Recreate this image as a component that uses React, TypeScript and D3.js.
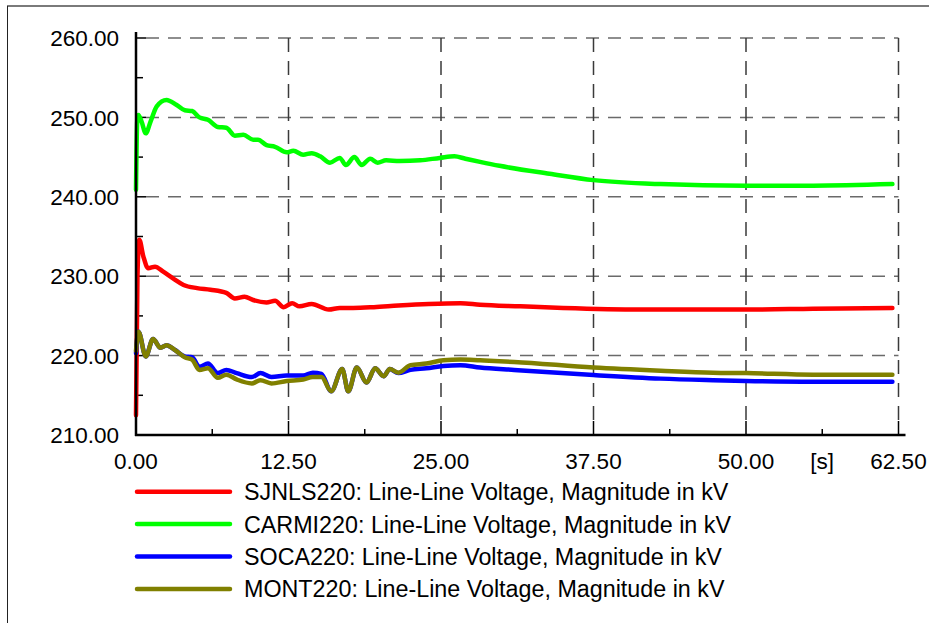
import { useEffect, useRef } from "react";
import * as d3 from "d3";

// axis ticks
const xTicks = [0, 12.5, 25, 37.5, 50, 62.5];
const xMinorTicks = [6.25, 18.75, 31.25, 43.75, 56.25];
const yTicks = [210, 220, 230, 240, 250, 260];
const yMinorTicks = [215, 225, 235, 245, 255];
const xUnit = "[s]";
const xUnitAt = 56.25;

const seriesNames = [
  "SJNLS220: Line-Line Voltage, Magnitude in kV",
  "CARMI220: Line-Line Voltage, Magnitude in kV",
  "SOCA220: Line-Line Voltage, Magnitude in kV",
  "MONT220: Line-Line Voltage, Magnitude in kV",
];
const seriesColors = ["#ff0000", "#00ff00", "#0000ff", "#808000"];

// [time s, voltage kV]
const sjnls220: [number, number][] = [
  [0, 212.5], [0.12, 230], [0.27, 234.6], [0.6, 232.5], [1.0, 231.0], [1.56, 231.2],
  [2.2, 230.6], [3.06, 229.7], [3.9, 228.9], [5.0, 228.5], [6.1, 228.3], [7.4, 227.9],
  [8.1, 227.2], [8.9, 227.4], [9.6, 227.0], [10.7, 226.7], [11.4, 226.9], [12.1, 226.1],
  [12.8, 226.6], [13.4, 226.2], [14.4, 226.5], [15.8, 225.8], [16.7, 226.0], [17.8, 226.0],
  [19.5, 226.1], [21.5, 226.3], [24, 226.5], [26.6, 226.6], [28.2, 226.4], [31.5, 226.2],
  [35, 226.0], [41.3, 225.8], [50, 225.8], [55.5, 225.9], [62, 226.0],
];

const carmi220: [number, number][] = [
  [0, 240.9], [0.1, 249.5], [0.2, 250.3], [0.45, 249.5], [0.8, 248.0], [1.2, 249.5],
  [1.7, 251.4], [2.5, 252.2], [3.3, 251.6], [4.0, 250.9], [4.6, 250.8], [5.2, 250.0],
  [5.9, 249.7], [6.7, 248.8], [7.4, 248.7], [8.1, 247.7], [8.8, 247.8], [9.6, 247.2],
  [10.0, 247.2], [10.7, 246.5], [11.4, 246.3], [12.35, 245.6], [12.9, 245.8], [13.7, 245.3],
  [14.4, 245.5], [15.1, 245.1], [15.9, 244.3], [16.7, 244.9], [17.2, 244.0], [17.9, 245.0],
  [18.5, 244.0], [19.2, 244.8], [19.8, 244.3], [20.5, 244.6], [21.6, 244.5], [23.3, 244.6],
  [24.9, 244.9], [26.1, 245.1], [27, 244.8], [28.2, 244.4], [29.8, 243.9], [33.9, 242.9],
  [37.5, 242.1], [43, 241.6], [50, 241.4], [55.5, 241.4], [62, 241.6],
];

const soca220: [number, number][] = [
  [0, 220.3], [0.2, 223.0], [0.8, 219.9], [1.4, 222.1], [2.0, 221.0], [2.5, 221.3],
  [3.2, 220.7], [4.0, 219.9], [4.6, 219.8], [5.2, 218.6], [5.9, 219.0], [6.7, 217.8],
  [7.4, 218.2], [8.25, 217.8], [9.5, 217.3], [10.2, 217.8], [11.1, 217.3], [12.35, 217.5],
  [13.7, 217.5], [14.5, 217.85], [15.2, 217.7], [16.0, 215.5], [16.9, 218.3], [17.4, 215.5],
  [18.1, 218.5], [18.9, 216.6], [19.6, 218.4], [20.3, 217.4], [20.8, 218.3], [21.5, 217.8],
  [22.5, 218.2], [23.8, 218.4], [25.2, 218.7], [26.6, 218.8], [28.2, 218.5], [31, 218.2],
  [37.5, 217.55], [43, 217.1], [47.3, 216.9], [50, 216.8], [55.5, 216.7], [62, 216.7],
];

const mont220: [number, number][] = [
  [0, 220.6], [0.2, 223.0], [0.8, 219.9], [1.4, 222.1], [2.0, 221.0], [2.5, 221.3],
  [3.2, 220.7], [4.0, 219.8], [4.6, 219.5], [5.2, 218.2], [5.9, 218.4], [6.7, 217.2],
  [7.4, 217.6], [8.25, 217.0], [9.5, 216.5], [10.2, 216.9], [11.1, 216.5], [12.35, 216.8],
  [13.7, 217.0], [14.5, 217.3], [15.2, 217.3], [16.0, 215.5], [16.9, 218.3], [17.4, 215.5],
  [18.1, 218.5], [18.9, 216.6], [19.6, 218.4], [20.3, 217.4], [20.8, 218.3], [21.5, 217.85],
  [22.5, 218.8], [23.8, 219.0], [25.2, 219.4], [26.6, 219.5], [28.2, 219.4], [31, 219.2],
  [37.5, 218.5], [43, 218.1], [47.3, 217.85], [50, 217.8], [55.5, 217.6], [62, 217.6],
];

const allSeries = [sjnls220, carmi220, soca220, mont220];

export default function App() {
  const svgRef = useRef<SVGSVGElement>(null);

  useEffect(() => {
    if (!svgRef.current) return;
    const svg = d3.select(svgRef.current);
    svg.selectAll("*").remove();

    const width = 929;
    const height = 623;
    const font = "'Liberation Sans', Arial, sans-serif";

    const x = d3.scaleLinear().domain([0, 62.5]).range([136, 898.5]);
    const y = d3.scaleLinear().domain([210, 260]).range([435, 38]);
    const [x0, x1] = x.range();
    const [y0, y1] = y.range();

    svg.attr("width", width).attr("height", height).attr("viewBox", `0 0 ${width} ${height}`);

    // outer frame
    svg.append("line")
      .attr("x1", 7).attr("x2", width).attr("y1", 6).attr("y2", 6)
      .attr("stroke", "#7a7a7a").attr("stroke-width", 2);
    svg.append("line")
      .attr("x1", 7.5).attr("x2", 7.5).attr("y1", 6).attr("y2", height)
      .attr("stroke", "#222").attr("stroke-width", 1);

    // grid
    const grid = svg.append("g").attr("fill", "none").attr("stroke-width", 1.5);
    grid.selectAll("line.h")
      .data(yTicks.filter((d) => d !== 210))
      .join("line")
      .attr("class", "h")
      .attr("x1", x0 + 10).attr("x2", x1)
      .attr("y1", (d) => y(d)).attr("y2", (d) => y(d))
      .attr("stroke", "#6a6a6a")
      .attr("stroke-dasharray", "13,9");
    grid.selectAll("line.v")
      .data(xTicks.filter((d) => d !== 0))
      .join("line")
      .attr("class", "v")
      .attr("x1", (d) => x(d)).attr("x2", (d) => x(d))
      .attr("y1", y1).attr("y2", y0 - 14)
      .attr("stroke", "#3a3a3a")
      .attr("stroke-dasharray", "14,9");

    // ticks
    const ticks = svg.append("g").attr("stroke", "#000").attr("stroke-width", 1.5);
    ticks.selectAll("line.ym")
      .data(yTicks)
      .join("line")
      .attr("class", "ym")
      .attr("x1", x0).attr("x2", x0 + 10)
      .attr("y1", (d) => y(d)).attr("y2", (d) => y(d));
    ticks.selectAll("line.yn")
      .data(yMinorTicks)
      .join("line")
      .attr("class", "yn")
      .attr("x1", x0).attr("x2", x0 + 7)
      .attr("y1", (d) => y(d)).attr("y2", (d) => y(d));
    ticks.selectAll("line.xm")
      .data(xTicks)
      .join("line")
      .attr("class", "xm")
      .attr("x1", (d) => x(d)).attr("x2", (d) => x(d))
      .attr("y1", y0).attr("y2", y0 - 14);
    ticks.selectAll("line.xn")
      .data(xMinorTicks)
      .join("line")
      .attr("class", "xn")
      .attr("x1", (d) => x(d)).attr("x2", (d) => x(d))
      .attr("y1", y0).attr("y2", y0 - 6);

    // series
    const line = d3
      .line<[number, number]>()
      .x((d) => x(d[0]))
      .y((d) => y(d[1]))
      .curve(d3.curveMonotoneX);

    svg.append("g")
      .selectAll("path")
      .data(allSeries)
      .join("path")
      .attr("d", (d) => line(d))
      .attr("fill", "none")
      .attr("stroke", (_, i) => seriesColors[i])
      .attr("stroke-width", 4.5)
      .attr("stroke-linejoin", "round")
      .attr("stroke-linecap", "round");

    // axis lines
    svg.append("line")
      .attr("x1", x0).attr("x2", x0).attr("y1", y1 - 6).attr("y2", y0 + 1)
      .attr("stroke", "#000").attr("stroke-width", 2.5);
    svg.append("line")
      .attr("x1", x0 - 1).attr("x2", x1 + 7).attr("y1", y0).attr("y2", y0)
      .attr("stroke", "#000").attr("stroke-width", 2.5);

    // labels
    const fmt = d3.format(".2f");
    const labels = svg.append("g")
      .attr("font-family", font)
      .attr("font-size", 22.5)
      .attr("fill", "#000");
    labels.selectAll("text.y")
      .data(yTicks)
      .join("text")
      .attr("class", "y")
      .attr("x", 119)
      .attr("y", (d) => y(d))
      .attr("dy", "0.36em")
      .attr("text-anchor", "end")
      .text((d) => fmt(d));
    labels.selectAll("text.x")
      .data(xTicks)
      .join("text")
      .attr("class", "x")
      .attr("x", (d) => x(d))
      .attr("y", 469)
      .attr("text-anchor", "middle")
      .text((d) => fmt(d));
    labels.append("text")
      .attr("x", x(xUnitAt))
      .attr("y", 469)
      .attr("text-anchor", "middle")
      .text(xUnit);

    // legend
    const legend = svg.append("g");
    const rows = legend.selectAll("g")
      .data(seriesNames)
      .join("g")
      .attr("transform", (_, i) => `translate(0,${491.7 + i * 32.4})`);
    rows.append("line")
      .attr("x1", 137).attr("x2", 230)
      .attr("stroke", (_, i) => seriesColors[i])
      .attr("stroke-width", 4.5)
      .attr("stroke-linecap", "round");
    rows.append("text")
      .attr("x", 244)
      .attr("y", 8.5)
      .attr("font-family", font)
      .attr("font-size", 23.3)
      .attr("fill", "#000")
      .text((d) => d);
  }, []);

  return (
    <div style={{ position: "absolute", left: 0, top: 0, width: 929, height: 623, background: "#fff" }}>
      <svg ref={svgRef} style={{ display: "block" }} />
    </div>
  );
}
